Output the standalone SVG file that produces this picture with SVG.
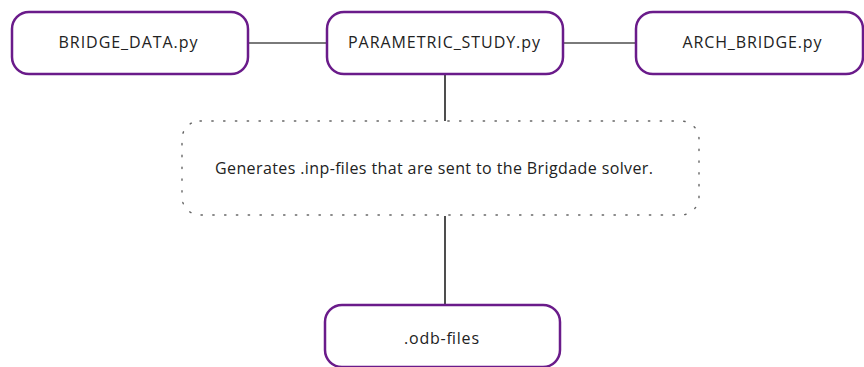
<svg xmlns="http://www.w3.org/2000/svg" width="864" height="367" viewBox="0 0 864 367">
  <style>
    .node rect { fill: #ffffff; stroke: #6a1b8a; stroke-width: 2.5; }
    .note rect { fill: none; stroke: #666666; stroke-width: 1.4; stroke-dasharray: 1.4 10.4; stroke-linecap: round; }
    .lbl { font-family: "Open Sans", "Liberation Sans", sans-serif; font-size: 16px; fill: #222222; text-anchor: middle; }
    .link { stroke: #7a7a7a; stroke-width: 2.2; fill: none; }
    .vlink { stroke: #222222; stroke-width: 1.6; fill: none; }
  </style>
  <rect width="864" height="367" fill="#ffffff"/>
  <g id="connectors">
    <line class="link" x1="248" y1="43" x2="327" y2="43"/>
    <line class="link" x1="563" y1="43" x2="636" y2="43"/>
    <line class="vlink" x1="445" y1="74" x2="445" y2="121"/>
    <line class="vlink" x1="445" y1="216" x2="445" y2="305"/>
  </g>
  <g id="bridge_data" class="node">
    <rect x="12" y="12" width="236" height="62" rx="17"/>
    <text class="lbl" x="128" y="48" textLength="139" lengthAdjust="spacing">BRIDGE_DATA.py</text>
  </g>
  <g id="parametric_study" class="node">
    <rect x="327" y="12" width="236" height="62" rx="17"/>
    <text class="lbl" x="444" y="48" textLength="192" lengthAdjust="spacing">PARAMETRIC_STUDY.py</text>
  </g>
  <g id="arch_bridge" class="node">
    <rect x="636" y="12" width="227" height="62" rx="17"/>
    <text class="lbl" x="752" y="48" textLength="139" lengthAdjust="spacing">ARCH_BRIDGE.py</text>
  </g>
  <g id="note" class="note">
    <rect x="182" y="121" width="517" height="94" rx="18"/>
    <text class="lbl" x="434" y="174" textLength="438" lengthAdjust="spacing">Generates .inp-files that are sent to the Brigdade solver.</text>
  </g>
  <g id="odb_files" class="node">
    <rect x="325" y="305" width="235" height="62" rx="17"/>
    <text class="lbl" x="441.5" y="344" textLength="75" lengthAdjust="spacing">.odb-files</text>
  </g>
</svg>
